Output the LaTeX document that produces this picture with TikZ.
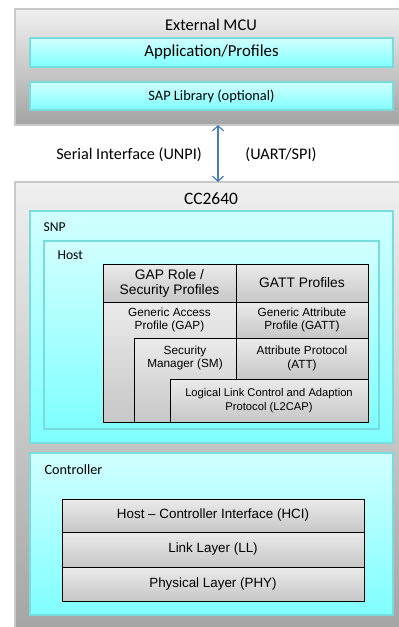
\documentclass[tikz,border=0pt]{standalone}
\usepackage{fontspec}
\setmainfont{Carlito}
\newfontfamily\cellfont{Liberation Sans}
\usetikzlibrary{arrows.meta}
\definecolor{framegray}{HTML}{C8C8C8}
\definecolor{paneledge}{HTML}{78DCDC}
\definecolor{linkblue}{HTML}{4A7EBB}
\tikzset{
  frame/.style={draw=framegray, line width=1.5pt, top color=white!94!black, bottom color=white!64!black, inner sep=0pt, outer sep=0pt},
  panel/.style={draw=paneledge, line width=1.5pt, top color=cyan!18, bottom color=cyan!50, inner sep=0pt, outer sep=0pt},
  layer/.style={draw=black, line width=1pt, top color=white!92!black, bottom color=white!78!black, inner sep=0pt, outer sep=0pt},
  celltext/.style={font=\cellfont\fontsize{11.8}{13.5}\selectfont, align=center, text=black},
  bigcell/.style={font=\cellfont\fontsize{13.8}{15}\selectfont},
  stacktext/.style={font=\cellfont\fontsize{13.4}{15}\selectfont, text=black},
}
\begin{document}
\begin{tikzpicture}[x=1pt,y=-1pt]
\clip (0,0) rectangle (399,627);
\fill[white] (0,0) rectangle (399,627);
% external MCU
\node[frame, minimum width=406pt, minimum height=116pt] (ext) at (218,67) {};
\node[font=\fontsize{16.4}{18}\selectfont] (extlabel) at (211,25) {External MCU};
\node[panel, minimum width=363pt, minimum height=29pt, font=\fontsize{16.8}{18}\selectfont] (app) at (211.5,52.5) {Application/Profiles};
\node[panel, minimum width=363pt, minimum height=28pt, font=\fontsize{14.4}{16}\selectfont] (sap) at (211.5,96) {SAP Library (optional)};
% CC2640
\node[frame, minimum width=406pt, minimum height=458pt] (cc) at (218,411) {};
\node[font=\fontsize{17.4}{19}\selectfont] (cclabel) at (211,199) {CC2640};
% serial link
\draw[linkblue, line width=1.2pt, {Straight Barb[length=5pt,width=11pt]}-{Straight Barb[length=5pt,width=11pt]}] (ext.south) -- (cc.north);
\node[font=\fontsize{16.2}{18}\selectfont] (serial) at (129,155) {Serial Interface (UNPI)};
\node[font=\fontsize{16.2}{18}\selectfont] (uart) at (281,155) {(UART/SPI)};
% SNP / Host
\node[panel, minimum width=363pt, minimum height=232pt] (snp) at (211.5,327) {};
\node[anchor=west, font=\fontsize{13.6}{15}\selectfont] (snplabel) at (40,227) {SNP};
\node[panel, minimum width=335pt, minimum height=188pt] (host) at (211.5,335) {};
\node[anchor=west, font=\fontsize{13.6}{15}\selectfont] (hostlabel) at (54,255) {Host};
% host stack
\node[layer, minimum width=133pt, minimum height=38pt, celltext, bigcell] (gaprole) at (169.5,283) {GAP Role /\\Security Profiles};
\node[layer, minimum width=132pt, minimum height=38pt, celltext, bigcell] (gattprof) at (302,283) {GATT Profiles};
\node[layer, minimum width=133pt, minimum height=120pt] (gap) at (169.5,362) {};
\node[celltext] (gaptext) at (169.5,320) {Generic Access\\Profile (GAP)};
\node[layer, minimum width=132pt, minimum height=36pt, celltext] (gatt) at (302,320) {Generic Attribute\\Profile (GATT)};
\node[layer, minimum width=102pt, minimum height=84pt] (sm) at (185,380) {};
\node[celltext] (smtext) at (185,358) {Security\\Manager (SM)};
\node[layer, minimum width=132pt, minimum height=41pt, celltext] (att) at (302,358.5) {Attribute Protocol\\(ATT)};
\node[layer, minimum width=198pt, minimum height=43pt, celltext, font=\cellfont\fontsize{11.2}{13.5}\selectfont] (l2cap) at (269,400.5) {Logical Link Control and Adaption\\Protocol (L2CAP)};
% controller
\node[panel, minimum width=363pt, minimum height=162pt] (ctrl) at (211.5,534) {};
\node[anchor=west, font=\fontsize{14.2}{16}\selectfont] (ctrllabel) at (41,470) {Controller};
\node[layer, minimum width=302pt, minimum height=33pt, stacktext] (hci) at (213,515.5) {Host – Controller Interface (HCI)};
\node[layer, minimum width=302pt, minimum height=35pt, stacktext] (ll) at (213,549.5) {Link Layer (LL)};
\node[layer, minimum width=302pt, minimum height=34pt, stacktext] (phy) at (213,584) {Physical Layer (PHY)};
\end{tikzpicture}
\end{document}
